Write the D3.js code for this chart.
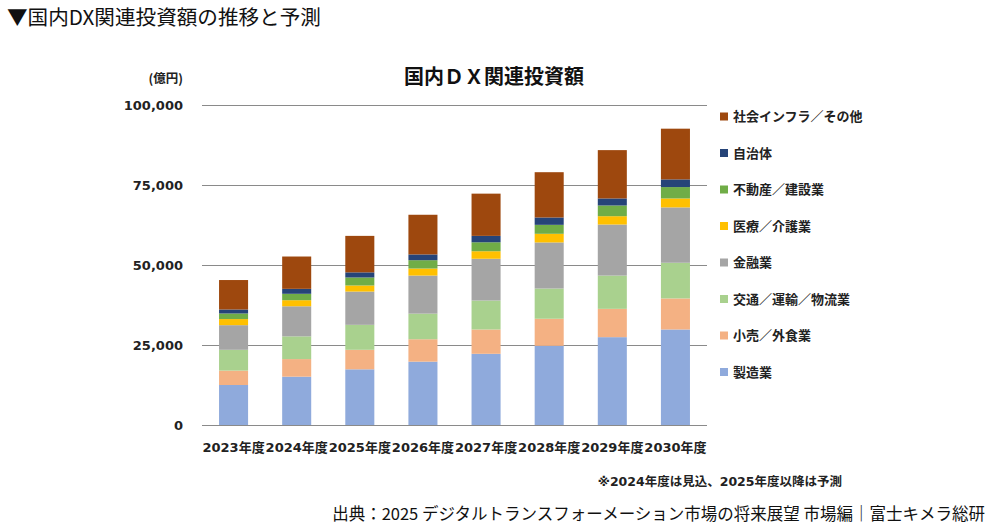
<!DOCTYPE html>
<html lang="ja">
<head>
<meta charset="UTF-8">
<script src="https://d3js.org/d3.v7.min.js"></script>
<style>
  body { margin: 0; background: #fff; }
  svg { display: block; }
  .jp { font-family: "DejaVu Sans", "Noto Sans CJK JP", sans-serif; }
</style>
</head>
<body>
<script>
// 年度
const years = ["2023年度", "2024年度", "2025年度", "2026年度", "2027年度", "2028年度", "2029年度", "2030年度"];

// 業種（積み上げ順：下から）
const sectors = ["製造業", "小売／外食業", "交通／運輸／物流業", "金融業", "医療／介護業", "不動産／建設業", "自治体", "社会インフラ／その他"];
const colors = ["#8faadc", "#f4b183", "#a9d18e", "#a5a5a5", "#ffc000", "#70ad47", "#264478", "#9e480e"];

// 億円
const manufacturing = [12500, 15100, 17400, 19800, 22250, 24750, 27450, 29850];
const retail        = [4500, 5500, 6100, 7000, 7600, 8450, 8850, 9700];
const logistics     = [6500, 7100, 7800, 8000, 9050, 9450, 10400, 11150];
const finance       = [7700, 9400, 10400, 11900, 13050, 14400, 15950, 17300];
const medical       = [1900, 1900, 1900, 2200, 2350, 2700, 2600, 2800];
const realEstate    = [1750, 2000, 2500, 2600, 2800, 2800, 3350, 3550];
const localGov      = [1250, 1550, 1600, 1800, 2000, 2300, 2200, 2400];
const infra         = [9200, 10100, 11400, 12400, 13200, 14150, 15100, 15850];

const seriesValues = [manufacturing, retail, logistics, finance, medical, realEstate, localGov, infra];
const yTicks = [0, 25000, 50000, 75000, 100000];

const width = 1000, height = 530;

const table = years.map((y, i) => {
  const row = { year: y };
  sectors.forEach((s, j) => { row[s] = seriesValues[j][i]; });
  return row;
});

const svg = d3.select("body").append("svg")
  .attr("width", width)
  .attr("height", height);

svg.append("rect").attr("width", width).attr("height", height).attr("fill", "#fff");

const x = d3.scaleBand()
  .domain(years)
  .range([202, 707])
  .paddingInner(0.54)
  .paddingOuter(0.27);

const y = d3.scaleLinear()
  .domain([0, 100000])
  .range([425, 105]);

// 目盛線
const yAxis = svg.append("g")
  .attr("transform", "translate(202,0)")
  .call(d3.axisLeft(y).tickValues(yTicks).tickSize(-505).tickPadding(19).tickFormat(d3.format(",")));
yAxis.select(".domain").remove();
yAxis.selectAll(".tick line").attr("stroke", "#8a8a8a").attr("stroke-width", 1.2);
yAxis.selectAll(".tick text")
  .attr("class", "jp")
  .attr("font-size", 13)
  .attr("font-weight", "bold")
  .attr("fill", "#222");

// 積み上げ棒
const stacked = d3.stack().keys(sectors)(table);

svg.append("g")
  .selectAll("g")
  .data(stacked)
  .join("g")
  .attr("fill", (d, i) => colors[i])
  .selectAll("rect")
  .data(d => d)
  .join("rect")
  .attr("x", d => x(d.data.year))
  .attr("y", d => y(d[1]))
  .attr("width", x.bandwidth())
  .attr("height", d => y(d[0]) - y(d[1]));

// 年度ラベル
svg.append("g")
  .selectAll("text")
  .data(years)
  .join("text")
  .attr("class", "jp")
  .attr("x", d => x(d) + x.bandwidth() / 2)
  .attr("y", 452)
  .attr("text-anchor", "middle")
  .attr("font-size", 13)
  .attr("font-weight", "bold")
  .attr("fill", "#222")
  .text(d => d);

// 凡例（上から逆順）
const legend = svg.append("g")
  .selectAll("g")
  .data(sectors.map((s, i) => ({ s, c: colors[i] })).reverse())
  .join("g")
  .attr("transform", (d, i) => `translate(720,${116.5 + i * 36.5})`);

legend.append("rect")
  .attr("x", 0).attr("y", -4)
  .attr("width", 8).attr("height", 8)
  .attr("fill", d => d.c);

legend.append("text")
  .attr("class", "jp")
  .attr("x", 13)
  .attr("y", 0)
  .attr("dy", "0.36em")
  .attr("font-size", 13)
  .attr("font-weight", "bold")
  .attr("fill", "#222")
  .text(d => d.s);

// タイトル類
svg.append("text")
  .attr("x", 7).attr("y", 25)
  .attr("font-family", "'Noto Sans CJK JP', sans-serif")
  .attr("font-size", 20.6)
  .attr("fill", "#111")
  .text("▼国内DX関連投資額の推移と予測");

svg.append("text")
  .attr("x", 494).attr("y", 84)
  .attr("text-anchor", "middle")
  .attr("font-family", "'Noto Sans CJK JP', sans-serif")
  .attr("font-size", 20)
  .attr("font-weight", "bold")
  .attr("fill", "#111")
  .text("国内ＤＸ関連投資額");

svg.append("text")
  .attr("x", 183).attr("y", 83)
  .attr("text-anchor", "end")
  .attr("font-family", "'Noto Sans CJK JP', sans-serif")
  .attr("font-size", 12.5)
  .attr("font-weight", "bold")
  .attr("fill", "#222")
  .text("(億円)");

svg.append("text")
  .attr("class", "jp")
  .attr("x", 842).attr("y", 486)
  .attr("text-anchor", "end")
  .attr("font-size", 12.5)
  .attr("font-weight", "bold")
  .attr("fill", "#222")
  .text("※2024年度は見込、2025年度以降は予測");

svg.append("text")
  .attr("x", 985).attr("y", 520)
  .attr("text-anchor", "end")
  .attr("font-family", "'Noto Sans CJK JP', sans-serif")
  .attr("font-size", 16.5)
  .attr("fill", "#111")
  .text("出典：2025 デジタルトランスフォーメーション市場の将来展望 市場編｜富士キメラ総研");
</script>
</body>
</html>
